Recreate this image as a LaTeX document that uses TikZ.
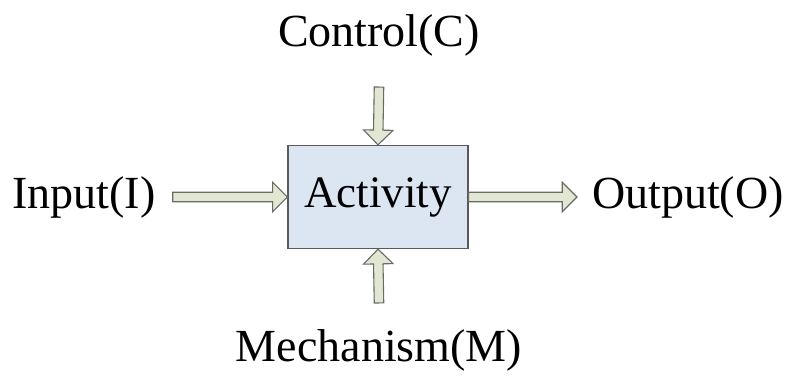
\documentclass[tikz,border=0pt]{standalone}
\usepackage{fontspec}
\setmainfont{Liberation Serif}
\usepackage{tikz}
\usetikzlibrary{shapes.arrows,calc,positioning}
\definecolor{boxblue}{RGB}{220,230,242}
\definecolor{boxline}{RGB}{90,90,90}
\definecolor{arrowfill}{RGB}{226,231,211}
\definecolor{arrowline}{RGB}{105,108,100}

\begin{document}
\begin{tikzpicture}[
  x=1pt, y=1pt,
  label/.style={inner sep=0pt, font=\fontsize{46}{55}\selectfont},
  activity/.style={rectangle, draw=boxline, fill=boxblue, line width=1.3pt, minimum width=180pt, minimum height=103pt, font=\fontsize{45}{54}\selectfont},
  arrowshape/.style={single arrow, draw=arrowline, fill=arrowfill, line width=1.1pt, inner sep=4.2pt, single arrow head extend=10pt, minimum width=0pt, outer sep=0pt},
  blockarr/.style={to path={
    let \p1=($(\tikztotarget)-(\tikztostart)$), \n1={veclen(\x1,\y1)}, \n2={atan2(\y1,\x1)} in
    node[arrowshape, minimum height=\n1, rotate=\n2, anchor=tail] at (\tikztostart) {}
  }}
]
  \useasboundingbox (0,0) rectangle (791,-379);

  \node[activity] (act) at (378,-197) {Activity};
  \node[label] (in) at (84,-197) {Input(I)};
  \node[label] (out) at (688,-197) {Output(O)};
  \node[label] (ctrl) at (379,-35) {Control(C)};
  \node[label] (mech) at (379,-350) {Mechanism(M)};

  \coordinate (in-tail) at ([xshift=17pt]in.east);
  \coordinate (out-tip) at ([xshift=-15pt]out.west);
  \coordinate (ctrl-tail) at ([yshift=-31pt]ctrl.south);
  \coordinate (mech-tail) at ([yshift=26pt]mech.north);

  \path (in-tail) to[blockarr] (act.west);
  \path (act.east) to[blockarr] (out-tip);
  \path (ctrl-tail) to[blockarr] (act.north);
  \path (mech-tail) to[blockarr] (act.south);
\end{tikzpicture}
\end{document}
